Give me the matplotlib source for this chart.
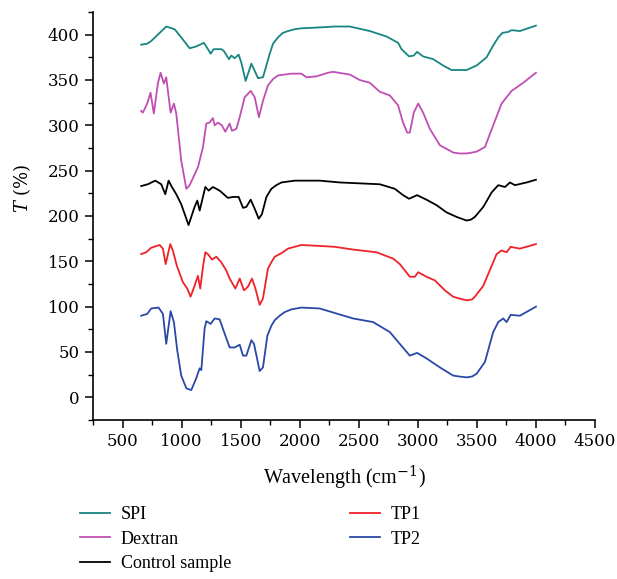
import matplotlib
matplotlib.use("Agg")
import matplotlib.pyplot as plt
from matplotlib.ticker import MultipleLocator

plt.rcParams['font.family'] = ['Liberation Serif', 'DejaVu Serif']
plt.rcParams['mathtext.fontset'] = 'dejavuserif'

spi_x = [658, 709, 743, 799, 870, 941, 997, 1068, 1124, 1189, 1223, 1246, 1271, 1336, 1358,
         1401, 1421, 1449, 1483, 1506, 1542, 1591, 1647, 1689, 1718, 1746, 1774, 1816, 1858,
         1901, 1958, 2014, 2169, 2297, 2424, 2593, 2735, 2833, 2862, 2926, 2966, 2994, 3045,
         3130, 3214, 3286, 3350, 3413, 3498, 3582, 3638, 3681, 3717, 3765, 3794, 3864, 4000]
spi_y = [389, 390, 393, 400, 409, 406, 397, 385, 387, 391, 384, 379, 384, 384, 382,
         373, 377, 374, 378, 369, 349, 368, 352, 353, 366, 379, 390, 397, 402,
         404, 406, 407, 408, 409, 409, 404, 398, 391, 384, 376, 377, 381, 376,
         373, 366, 361, 361, 361, 366, 375, 388, 397, 402, 403, 405, 404, 410]

dex_x = [658, 672, 709, 737, 765, 799, 822, 850, 870, 907, 935, 955, 997, 1040, 1068, 1139,
         1181, 1209, 1237, 1265, 1280, 1308, 1341, 1370, 1407, 1426, 1463, 1492, 1534, 1585,
         1619, 1655, 1689, 1731, 1774, 1816, 1929, 2014, 2057, 2141, 2240, 2282, 2424, 2508,
         2593, 2678, 2763, 2833, 2875, 2910, 2932, 2966, 3003, 3045, 3102, 3187, 3299, 3350,
         3413, 3460, 3498, 3568, 3638, 3709, 3794, 3893, 4000]
dex_y = [316, 314, 324, 336, 313, 346, 358, 346, 353, 314, 324, 313, 261, 230, 234, 254,
         276, 302, 303, 308, 300, 303, 300, 293, 302, 294, 296, 309, 331, 338,
         331, 309, 327, 344, 351, 355, 357, 357, 353, 354, 358, 359, 356, 350,
         347, 337, 333, 322, 303, 292, 292, 314, 324, 314, 296, 278, 270, 269,
         269, 270, 271, 276, 300, 324, 338, 347, 358]

ctl_x = [658, 714, 777, 828, 862, 890, 918, 955, 997, 1059, 1110, 1133, 1153, 1201, 1229,
         1265, 1322, 1392, 1435, 1483, 1520, 1548, 1585, 1619, 1653, 1680, 1718, 1760, 1802,
         1845, 1958, 2169, 2339, 2678, 2805, 2875, 2926, 2994, 3073, 3158, 3243, 3328, 3370,
         3413, 3450, 3483, 3554, 3625, 3681, 3738, 3780, 3822, 3921, 4000]
ctl_y = [233, 235, 239, 235, 224, 239, 232, 224, 213, 190, 210, 217, 206, 232, 228,
         232, 228, 220, 221, 221, 209, 210, 218, 208, 197, 202, 221, 230, 234,
         237, 239, 239, 237, 235, 230, 223, 219, 223, 218, 212, 204, 199, 197,
         195, 196, 199, 210, 226, 234, 232, 237, 234, 237, 240]

tp1_x = [658, 700, 743, 814, 842, 865, 904, 926, 960, 1011, 1048, 1076, 1110, 1138, 1158,
         1181, 1201, 1223, 1257, 1294, 1336, 1378, 1407, 1455, 1492, 1528, 1562, 1596, 1625,
         1661, 1689, 1731, 1760, 1788, 1845, 1901, 2014, 2169, 2297, 2452, 2650, 2791, 2847,
         2890, 2932, 2975, 3003, 3073, 3144, 3229, 3299, 3350, 3413, 3460, 3483, 3554, 3625,
         3667, 3709, 3752, 3786, 3864, 4000]
tp1_y = [158, 160, 165, 168, 164, 147, 169, 162, 145, 127, 120, 111, 123, 134, 120,
         144, 160, 158, 152, 155, 149, 140, 131, 120, 131, 118, 122, 131, 120,
         102, 109, 142, 149, 155, 159, 164, 168, 167, 166, 163, 160, 153, 147,
         140, 133, 133, 138, 133, 129, 118, 111, 109, 107, 108, 111, 123, 145,
         158, 162, 160, 166, 164, 169]

tp2_x = [658, 709, 743, 805, 842, 870, 907, 935, 963, 997, 1040, 1082, 1124, 1153, 1167,
         1195, 1209, 1246, 1280, 1322, 1379, 1407, 1449, 1492, 1520, 1548, 1591, 1613, 1661,
         1689, 1726, 1760, 1788, 1830, 1873, 1929, 2014, 2169, 2297, 2452, 2621, 2763, 2847,
         2932, 2994, 3073, 3187, 3299, 3350, 3413, 3460, 3498, 3568, 3638, 3681, 3723, 3752,
         3786, 3864, 4000]
tp2_y = [90, 92, 98, 99, 92, 59, 95, 83, 52, 24, 10, 8, 21, 32, 30,
         76, 84, 81, 87, 86, 65, 55, 55, 58, 46, 46, 63, 59, 29,
         33, 68, 79, 85, 90, 94, 97, 99, 98, 93, 87, 83, 72, 59,
         46, 49, 43, 33, 24, 23, 22, 23, 26, 39, 72, 83, 87, 83,
         91, 90, 100]

labels = ["SPI", "Dextran", "Control sample", "TP1", "TP2"]
colors = ["#178582", "#c04fb4", "#000000", "#ee2229", "#2a48a6"]
xs = [spi_x, dex_x, ctl_x, tp1_x, tp2_x]
ys = [spi_y, dex_y, ctl_y, tp1_y, tp2_y]

fig = plt.figure(figsize=(6.17, 5.79), dpi=100)
ax = fig.add_axes([93/617, 1-420/579, (595-93)/617, (420-12)/579])

for x, y, c, lab in zip(xs, ys, colors, labels):
    ax.plot(x, y, color=c, lw=1.3, label=lab)

ax.set_xlim(250, 4500)
ax.set_ylim(-25, 425)
ax.xaxis.set_minor_locator(MultipleLocator(250))
ax.yaxis.set_minor_locator(MultipleLocator(25))
ax.set_xticks(range(500, 4501, 500))
ax.set_yticks(range(0, 401, 50))
ax.spines['top'].set_visible(False)
ax.spines['right'].set_visible(False)
for s in ['left', 'bottom']:
    ax.spines[s].set_linewidth(1.2)
ax.tick_params(which='major', direction='out', length=6, width=1.1, labelsize=12)
ax.tick_params(which='minor', direction='out', length=3.5, width=1.0)
for lbl in ax.get_xticklabels() + ax.get_yticklabels():
    lbl.set_family(['DejaVu Serif'])

ax.set_xlabel("Wavelength (cm$^{-1}$)", fontsize=14.5, labelpad=10)
ax.set_ylabel("$T$ (%)", fontsize=13, family=['DejaVu Serif'])
ax.yaxis.set_label_coords(-0.12, 0.569)

fig.legend(loc='upper left', bbox_to_anchor=(80/617, 1-506/579), ncol=2, frameon=False,
           fontsize=13, handlelength=1.65, handletextpad=0.6, labelspacing=0.42,
           columnspacing=6.6, borderpad=0, borderaxespad=0)

fig.savefig("out.png", dpi=100)
